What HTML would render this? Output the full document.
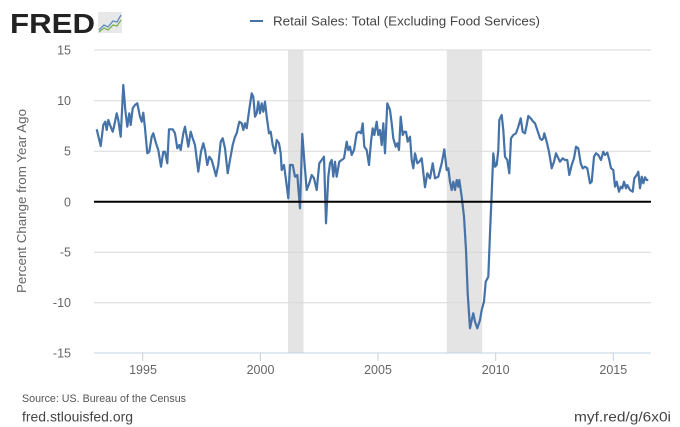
<!DOCTYPE html>
<html><head><meta charset="utf-8"><style>
html,body{margin:0;padding:0;background:#fff;}
body{width:680px;height:427px;overflow:hidden;position:relative;font-family:"Liberation Sans",sans-serif;}
svg{position:absolute;left:0;top:0;}
</style></head><body>
<svg width="680" height="427" viewBox="0 0 680 427" xmlns="http://www.w3.org/2000/svg">
<!-- FRED logo -->
<text x="10" y="33" font-family="Liberation Sans, sans-serif" font-weight="bold" font-size="28" fill="#222" textLength="85" lengthAdjust="spacingAndGlyphs">FRED</text>
<rect x="98" y="12" width="24" height="21" fill="#e8e8e8"/>
<polyline points="99,30 104,25 108,27 113,21 117,22 121,15" fill="none" stroke="#5b8ac2" stroke-width="1.3"/>
<polyline points="99,32 104,28 108,30 113,25 117,26 121,20" fill="none" stroke="#7bb34f" stroke-width="1.3"/>
<!-- legend -->
<line x1="250" y1="21" x2="263" y2="21" stroke="#4572a7" stroke-width="2"/>
<text x="273" y="25.5" font-size="13" fill="#444" textLength="267" lengthAdjust="spacingAndGlyphs">Retail Sales: Total (Excluding Food Services)</text>
<!-- recessions -->
<rect x="288" y="50" width="15.5" height="302.5" fill="#e4e4e4"/>
<rect x="446.7" y="50" width="35.5" height="302.5" fill="#e4e4e4"/>
<!-- grid -->
<g stroke="#d8d8d8" stroke-width="1">
<line x1="94" y1="50" x2="651" y2="50"/>
<line x1="94" y1="100.8" x2="651" y2="100.8"/>
<line x1="94" y1="151.3" x2="651" y2="151.3"/>
<line x1="94" y1="252.3" x2="651" y2="252.3"/>
<line x1="94" y1="302.8" x2="651" y2="302.8"/>
</g>
<line x1="94" y1="353" x2="651" y2="353" stroke="#c0d0e0" stroke-width="1"/>
<g stroke="#c0d0e0" stroke-width="1">
<line x1="142.7" y1="353" x2="142.7" y2="361"/>
<line x1="260.3" y1="353" x2="260.3" y2="361"/>
<line x1="378" y1="353" x2="378" y2="361"/>
<line x1="495.7" y1="353" x2="495.7" y2="361"/>
<line x1="613.3" y1="353" x2="613.3" y2="361"/>
</g>
<!-- y labels -->
<g font-size="12.5" fill="#666" text-anchor="end">
<text x="71" y="54.5">15</text>
<text x="71" y="105">10</text>
<text x="71" y="155.5">5</text>
<text x="71" y="206.5">0</text>
<text x="71" y="256.5">-5</text>
<text x="71" y="307">-10</text>
<text x="71" y="357.5">-15</text>
</g>
<text transform="translate(26,201) rotate(-90)" font-size="12.5" fill="#666" text-anchor="middle" textLength="184" lengthAdjust="spacingAndGlyphs">Percent Change from Year Ago</text>
<!-- x labels -->
<g font-size="12.5" fill="#666" text-anchor="middle">
<text x="143" y="374">1995</text>
<text x="260.5" y="374">2000</text>
<text x="378" y="374">2005</text>
<text x="495.7" y="374">2010</text>
<text x="613.3" y="374">2015</text>
</g>
<!-- series -->
<polyline fill="none" stroke="#4572a7" stroke-width="2.2" stroke-linejoin="round" points="
96.7,129.3 100.7,146 103.3,125 105.3,121.7 106.7,130 108.3,120 110.7,126.7 112.7,131.7 114,126.7 116.7,113.3 118.3,120 120.7,136.7 123.3,85 125.3,110 127.3,126.7 129.3,113.3 130.7,125 132.7,108.3 135,105 137.3,103.3 140,116.7 141.7,121.7 143.3,112.7 145,128.3 147.3,153.3 149.3,151.7 151.7,136.7 153.3,133.3 156,143.3 158.3,150 161,166.7 163.3,151.7 165,151.7 167.3,163.3 169,129.3 172.7,129.3 175,133.3 177.3,148.3 179.3,145 180.7,150 183.3,133.3 185,126.7 186.7,136.7 188.3,146.7 190.7,131.7 192.7,138.3 195,145 198.3,171.7 201,151.7 203.3,143.3 205,150 207.3,165 209.3,156.7 211.7,160 214,168.3 216,176 218.3,165 220.7,141.7 222.7,138.3 225,148.3 227.7,173.3 230,160 232.7,145 235,136.7 236.7,133.3 239.3,121.7 241.7,123.3 243.3,130 245,123.3 246.7,128.3 249.3,109.3 251.7,93.3 253.3,96.7 255,116.7 256.7,113.3 258.3,101.7 260,113.3 261.7,103.3 263.3,111.7 265,101.7 266.7,116.7 269,133.3 270.7,131.7 272.7,145 275,153.3 276.7,140 279,143.3 280.7,153.3 281.7,170 284,165 286,180 288.3,198.3 290,165 292.7,165 295,176.7 297.3,175 300,208.3 302.3,134 304,156.7 306.7,190 309.3,183.3 311.7,175 314,178.3 316.7,190 319.3,163.3 321.7,160 324,156.7 326,223.3 328.3,176.7 330,163.3 331.7,160 333.3,176.7 335,161.7 336.7,176.7 339.3,161.7 341.7,160 344,158.3 346.7,141.7 348.3,150 350,146.7 351.7,155 354,150 356.7,133.3 359,131.7 361,133.3 362.7,123.3 364.3,146.7 366.7,150 369,165 371,141.7 372.7,128.3 374.3,135 376.7,121.7 378.3,135 380,130 381.7,145 383.3,123.3 385,153.3 387.3,103.3 390,110 391.7,123.3 393.3,138.3 395.7,146.7 397.3,143.3 399,150 400.7,116.7 402.7,135 404.3,131.7 406,131.7 407.7,141.7 410,136.7 411.7,160 413.3,168.3 415,153.3 417.3,163.3 419.3,161.7 421.7,158.3 425,187.3 427.3,173.3 430,178.3 432.7,163.3 435,178.3 438.3,176.7 441.7,163.3 444.3,149.3 446.7,170 448.3,168.3 450,181.7 451.7,190 453.3,181.7 455,190 456.7,180 458.3,186.7 459.3,180 461.7,196.7 464,216.7 466,250 467.7,293.3 470,328.3 471.7,320 473.3,313.3 475,321.7 477.3,328.3 480,320 481.7,310 484,301.7 485.7,281.7 488.3,276.7 490,233.3 491.7,193.3 493.3,153.3 495,166.7 496.7,165 498.3,150 499.3,120 501.7,115 503.3,130 505,156.7 507.3,160 509.3,173.3 511,138.3 513.3,135 516,133.3 518.3,126.7 520.7,118.3 522.7,131.7 525,133.3 526.7,125 528.3,116 530.7,118.3 533.3,121.7 535,123.3 537.3,130 540,138.3 541.7,140 543.3,138.3 544.3,133.3 546.7,141.7 549,151.7 551.7,168.3 554,161.7 556,153.3 558.3,158.3 560,161.7 562.7,158.3 565,160 567.3,160 569.3,175 571.7,165 574,158.3 576,146.7 578.3,148.3 580.7,163.3 582.7,168.3 585,166.7 587.3,168.3 590,183.3 591.7,181.7 594,156.7 596,153.3 598.3,155 601,160 603.3,151.7 605,155 607.3,152.7 609.3,160 611,168.3 613.3,170 615,186.7 616.7,181.7 619,191.7 620.7,186.7 622.3,188.3 624,181.7 626,188.3 627.3,185 630,190 632.7,191.7 634.3,178.3 636.7,175 638.3,171.7 640,188.3 641.7,176.7 643.3,183.3 645,177.3 646.7,180 648.3,180"/>
<!-- zero line -->
<line x1="94" y1="201.8" x2="651" y2="201.8" stroke="#000" stroke-width="2"/>
<!-- footer -->
<text x="22" y="402" font-size="11" fill="#555" textLength="164" lengthAdjust="spacingAndGlyphs">Source: US. Bureau of the Census</text>
<text x="22" y="421.5" font-size="13.5" fill="#444" textLength="111" lengthAdjust="spacingAndGlyphs">fred.stlouisfed.org</text>
<text x="574" y="421.5" font-size="13.5" fill="#444" textLength="97" lengthAdjust="spacingAndGlyphs">myf.red/g/6x0i</text>
</svg>
</body></html>
